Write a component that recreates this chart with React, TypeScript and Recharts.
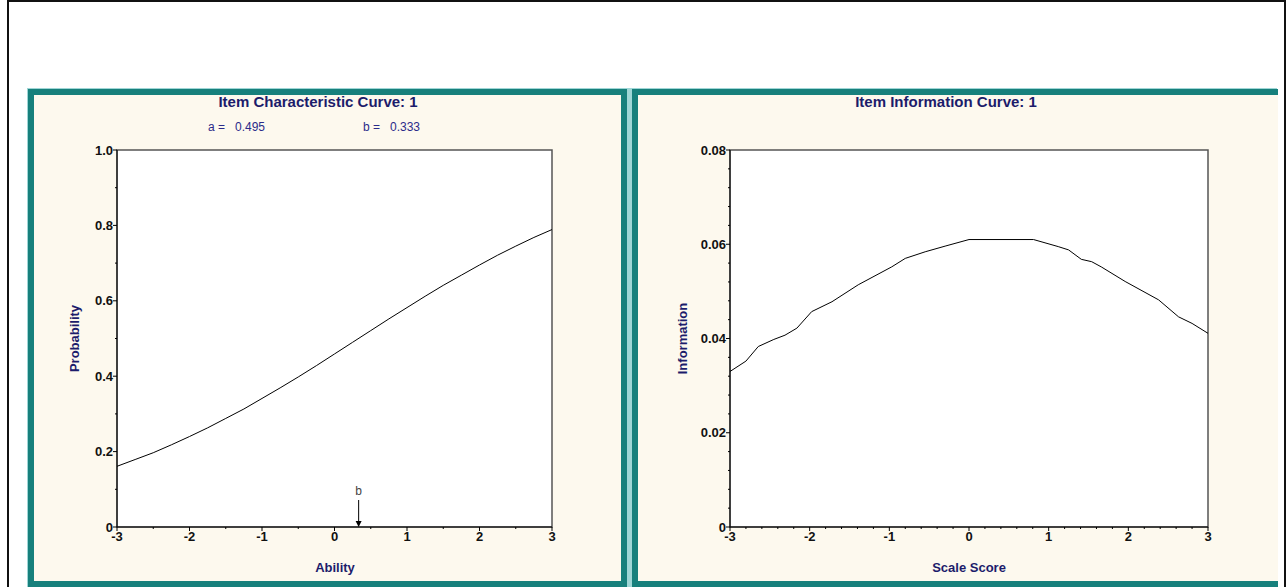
import { ComposedChart, Line, Scatter, XAxis, YAxis, ReferenceArea } from "recharts";

// Item Characteristic Curve: theta vs probability
const iccTheta = [-3, -2.75, -2.5, -2.25, -2, -1.75, -1.5, -1.25, -1, -0.75, -0.5, -0.25, 0, 0.25, 0.5, 0.75, 1, 1.25, 1.5, 1.75, 2, 2.25, 2.5, 2.75, 3];
const iccProb = [0.161, 0.179, 0.197, 0.218, 0.24, 0.263, 0.288, 0.313, 0.341, 0.369, 0.398, 0.428, 0.459, 0.49, 0.521, 0.552, 0.582, 0.612, 0.641, 0.668, 0.695, 0.721, 0.745, 0.768, 0.789];

// Item Information Curve: scale score vs information
const infoTheta = [-3, -2.8, -2.645, -2.45, -2.31, -2.16, -1.975, -1.72, -1.39, -0.97, -0.8, -0.55, -0.3, 0, 0.81, 1.12, 1.25, 1.41, 1.54, 1.66, 1.96, 2.38, 2.63, 2.8, 3];
const infoValue = [0.033, 0.0352, 0.0383, 0.0398, 0.0407, 0.0422, 0.0457, 0.0478, 0.0514, 0.0552, 0.057, 0.0584, 0.0596, 0.061, 0.061, 0.0595, 0.0588, 0.0568, 0.0563, 0.0552, 0.0521, 0.0482, 0.0446, 0.0432, 0.0411];

const paramA = 0.495;
const paramB = 0.333;

const xTicksLeft = [-3, -2.5, -2, -1.5, -1, -0.5, 0, 0.5, 1, 1.5, 2, 2.5, 3];
const xTicksRight = [-3, -2.8, -2.6, -2.4, -2.2, -2, -1.8, -1.6, -1.4, -1.2, -1, -0.8, -0.6, -0.4, -0.2, 0, 0.2, 0.4, 0.6, 0.8, 1, 1.2, 1.4, 1.6, 1.8, 2, 2.2, 2.4, 2.6, 2.8, 3];
const xMajor = [-3, -2, -1, 0, 1, 2, 3];
const xLabels = ["-3", "-2", "-1", "0", "1", "2", "3"];

const yTicksLeft = [0, 0.1, 0.2, 0.3, 0.4, 0.5, 0.6, 0.7, 0.8, 0.9, 1];
const yMajorLeft = [0, 0.2, 0.4, 0.6, 0.8, 1];
const yLabelsLeft = ["0", "0.2", "0.4", "0.6", "0.8", "1.0"];

const yTicksRight = [0, 0.004, 0.008, 0.012, 0.016, 0.02, 0.024, 0.028, 0.032, 0.036, 0.04, 0.044, 0.048, 0.052, 0.056, 0.06, 0.064, 0.068, 0.072, 0.076, 0.08];
const yMajorRight = [0, 0.02, 0.04, 0.06, 0.08];
const yLabelsRight = ["0", "0.02", "0.04", "0.06", "0.08"];

const iccData = iccTheta.map((t, i) => ({ theta: t, p: iccProb[i] }));
const infoData = infoTheta.map((t, i) => ({ theta: t, info: infoValue[i] }));

const FONT = "'Liberation Sans Narrow', 'Arial Narrow', 'Liberation Sans', Arial, sans-serif";
const TEAL = "#17807c";
const CREAM = "#fdf9ee";
const NAVY = "#1c1c6b";

function labelFor(v: number, majors: number[], labels: string[]) {
  const i = majors.findIndex((m) => Math.abs(m - v) < 1e-9);
  return i >= 0 ? labels[i] : null;
}

function XTick({ x, y, payload }: any) {
  const lab = labelFor(payload.value, xMajor, xLabels);
  return (
    <g>
      <line x1={x} x2={x} y1={y} y2={y + (lab ? 4 : 2)} stroke="#000" />
      {lab && (
        <text x={x} y={y + 14} textAnchor="middle" fontSize={13} fontWeight="bold" fill="#111" fontFamily={FONT}>
          {lab}
        </text>
      )}
    </g>
  );
}

function makeYTick(majors: number[], labels: string[]) {
  return ({ x, y, payload }: any) => {
    const lab = labelFor(payload.value, majors, labels);
    return (
      <g>
        <line x1={x} x2={x - (lab ? 4 : 2)} y1={y} y2={y} stroke="#000" />
        {lab && (
          <text x={x - 4} y={y + 4.5} textAnchor="end" fontSize={13} fontWeight="bold" fill="#111" fontFamily={FONT}>
            {lab}
          </text>
        )}
      </g>
    );
  };
}

const YTickLeft = makeYTick(yMajorLeft, yLabelsLeft);
const YTickRight = makeYTick(yMajorRight, yLabelsRight);

function BArrow({ cx, cy }: any) {
  return (
    <g>
      <text x={cx} y={cy - 32} textAnchor="middle" fontSize={12} fill="#444" fontFamily={FONT}>
        b
      </text>
      <line x1={cx} x2={cx} y1={cy - 27} y2={cy - 4} stroke="#000" />
      <path d={`M${cx - 3},${cy - 6} L${cx + 3},${cy - 6} L${cx},${cy} Z`} fill="#000" />
    </g>
  );
}

const abs = (left: number, top: number, extra: any = {}) => ({ position: "absolute" as const, left, top, ...extra });

export default function App() {
  return (
    <div style={abs(0, 0, { width: 1286, height: 587, background: "#fff", overflow: "hidden", fontFamily: FONT })}>
      <div style={abs(7, 0, { width: 1275, height: 600, border: "2px solid #111", borderBottom: "none" })} />
      <div style={abs(27, 88, { width: 1250, height: 499, background: "#9fd6d6" })} />

      {/* left panel */}
      <div style={abs(28, 89, { width: 587, height: 486, border: `6px solid ${TEAL}`, background: CREAM })} />
      <div style={abs(34, 95)}>
        <ComposedChart width={587} height={487} data={iccData} margin={{ top: 55, right: 69, bottom: 30, left: 0 }}>
          <XAxis
            type="number"
            dataKey="theta"
            domain={[-3, 3]}
            ticks={xTicksLeft}
            interval={0}
            tickSize={0}
            tickMargin={0}
            tick={<XTick />}
            axisLine={{ stroke: "#000" }}
            height={25}
          />
          <YAxis
            type="number"
            domain={[0, 1]}
            ticks={yTicksLeft}
            interval={0}
            tickSize={0}
            tickMargin={0}
            tick={<YTickLeft />}
            axisLine={{ stroke: "#000" }}
            width={83}
          />
          <ReferenceArea x1={-3} x2={3} y1={0} y2={1} fill="#fff" fillOpacity={1} stroke="#555" strokeWidth={1.5} />
          <Line type="linear" dataKey="p" stroke="#000" strokeWidth={1} dot={false} isAnimationActive={false} />
          <Scatter data={[{ theta: paramB, p: 0 }]} dataKey="p" shape={<BArrow />} isAnimationActive={false} />
        </ComposedChart>
      </div>
      <div style={abs(208, 93, { width: 220, textAlign: "center", fontSize: 15, fontWeight: "bold", color: NAVY })}>
        Item Characteristic Curve: 1
      </div>
      <div style={abs(208, 120, { fontSize: 12, color: "#2b2b8a", whiteSpace: "pre" })}>{`a =   ${paramA.toFixed(3)}`}</div>
      <div style={abs(363, 120, { fontSize: 12, color: "#2b2b8a", whiteSpace: "pre" })}>{`b =   ${paramB.toFixed(3)}`}</div>
      <div style={abs(285, 560, { width: 100, textAlign: "center", fontSize: 13, fontWeight: "bold", color: NAVY })}>Ability</div>
      <div
        style={abs(24, 331, {
          width: 100,
          textAlign: "center",
          fontSize: 13,
          fontWeight: "bold",
          color: NAVY,
          transform: "rotate(-90deg)",
        })}
      >
        Probability
      </div>

      {/* right panel */}
      <div style={abs(632, 89, { width: 640, height: 486, border: `6px solid ${TEAL}`, borderRight: "none", background: CREAM })} />
      <div style={abs(637, 95)}>
        <ComposedChart width={640} height={487} data={infoData} margin={{ top: 55, right: 69, bottom: 30, left: 0 }}>
          <XAxis
            type="number"
            dataKey="theta"
            domain={[-3, 3]}
            ticks={xTicksRight}
            interval={0}
            tickSize={0}
            tickMargin={0}
            tick={<XTick />}
            axisLine={{ stroke: "#000" }}
            height={25}
          />
          <YAxis
            type="number"
            domain={[0, 0.08]}
            ticks={yTicksRight}
            interval={0}
            tickSize={0}
            tickMargin={0}
            tick={<YTickRight />}
            axisLine={{ stroke: "#000" }}
            width={93}
          />
          <ReferenceArea x1={-3} x2={3} y1={0} y2={0.08} fill="#fff" fillOpacity={1} stroke="#555" strokeWidth={1.5} />
          <Line type="linear" dataKey="info" stroke="#000" strokeWidth={1} dot={false} isAnimationActive={false} />
        </ComposedChart>
      </div>
      <div style={abs(836, 93, { width: 220, textAlign: "center", fontSize: 15, fontWeight: "bold", color: NAVY })}>
        Item Information Curve: 1
      </div>
      <div style={abs(919, 560, { width: 100, textAlign: "center", fontSize: 13, fontWeight: "bold", color: NAVY })}>
        Scale Score
      </div>
      <div
        style={abs(632, 331, {
          width: 100,
          textAlign: "center",
          fontSize: 13,
          fontWeight: "bold",
          color: NAVY,
          transform: "rotate(-90deg)",
        })}
      >
        Information
      </div>
    </div>
  );
}
